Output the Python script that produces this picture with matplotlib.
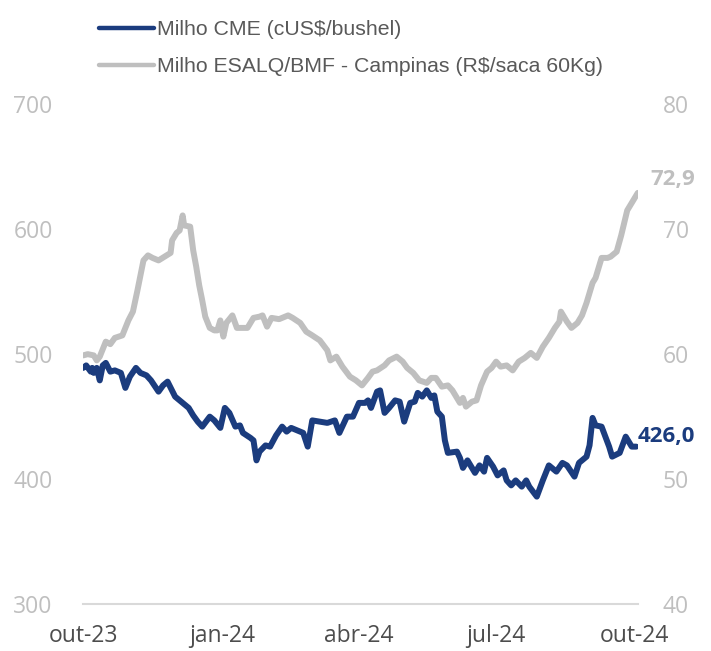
import matplotlib
matplotlib.use("Agg")
import matplotlib.pyplot as plt
from matplotlib.lines import Line2D
import pandas as pd

# dias desde 01/10/2023
dias_cme = [0, 2, 5, 6, 7, 9, 11, 13, 15, 18, 21, 25, 28, 31, 35, 38, 42, 45, 50, 53,
            56, 61, 65, 70, 73, 76, 79, 84, 87, 91, 94, 97, 101, 104, 106, 111, 113, 115, 117, 121,
            124, 128, 132, 135, 138, 142, 146, 149, 152, 157, 162, 167, 170, 175, 179, 183, 187, 189, 191, 195,
            197, 200, 203, 207, 210, 213, 217, 220, 222, 225, 228, 231, 233, 235, 238, 240, 242, 248, 250, 252,
            255, 260, 263, 266, 268, 272, 275, 279, 281, 284, 287, 291, 294, 296, 301, 305, 309, 314, 318, 321,
            326, 329, 334, 336, 338, 340, 344, 349, 351, 356, 360, 364, 367]
milho_cme = [489, 491, 486, 489, 485, 489, 479, 491, 493, 486, 487, 485, 473, 482, 489, 485, 483, 479, 470, 475,
             478, 466, 462, 457, 451, 446, 442, 450, 447, 441, 457, 453, 442, 443, 437, 433, 431, 415, 422, 427,
             426, 435, 442, 438, 441, 439, 437, 426, 447, 446, 445, 447, 437, 450, 450, 461, 461, 463, 457, 470,
             471, 453, 457, 463, 462, 446, 461, 462, 469, 466, 471, 465, 467, 454, 450, 431, 421, 422, 417, 409,
             415, 405, 411, 406, 417, 410, 403, 407, 399, 395, 399, 394, 399, 394, 386, 399, 411, 406, 413, 411,
             402, 413, 418, 427, 449, 443, 442, 426, 418, 421, 434, 426, 426.0]

dias_esalq = [0, 3, 7, 9, 11, 15, 18, 21, 26, 30, 33, 36, 38, 40, 43, 46, 50, 54, 58, 59,
              62, 64, 66, 67, 71, 73, 75, 77, 79, 81, 84, 87, 89, 91, 93, 95, 99, 102, 109, 113,
              117, 119, 122, 125, 130, 136, 139, 144, 148, 152, 157, 162, 164, 168, 172, 177, 181, 185, 189, 192,
              195, 200, 203, 208, 212, 215, 219, 223, 228, 231, 234, 238, 242, 245, 250, 252, 254, 258, 261, 264,
              268, 271, 274, 277, 281, 285, 289, 293, 297, 301, 305, 309, 313, 316, 317, 321, 324, 328, 331, 334,
              338, 340, 344, 348, 350, 354, 357, 361, 364, 368]
milho_esalq = [59.9, 60.0, 59.9, 59.5, 59.8, 61.0, 60.8, 61.3, 61.5, 62.7, 63.4, 65.1, 66.3, 67.5, 67.9, 67.7, 67.5, 67.8, 68.1, 69.1,
               69.7, 69.9, 71.1, 70.3, 70.2, 68.3, 67.0, 65.5, 64.3, 63.0, 62.1, 61.9, 61.9, 62.7, 61.4, 62.5, 63.1, 62.1, 62.1, 62.9,
               63.0, 63.1, 62.2, 62.9, 62.8, 63.1, 62.9, 62.5, 61.8, 61.5, 61.1, 60.3, 59.5, 59.8, 59.0, 58.2, 57.9, 57.5, 58.1, 58.6,
               58.7, 59.1, 59.5, 59.8, 59.4, 58.9, 58.5, 57.9, 57.7, 58.1, 58.1, 57.4, 57.5, 57.1, 56.1, 56.5, 55.8, 56.2, 56.3, 57.5,
               58.6, 58.9, 59.4, 59.0, 59.1, 58.7, 59.4, 59.7, 60.1, 59.7, 60.6, 61.3, 62.1, 62.6, 63.4, 62.6, 62.1, 62.5, 63.1, 64.1,
               65.7, 66.1, 67.7, 67.7, 67.8, 68.2, 69.5, 71.5, 72.1, 72.9]

ticks_x = ["2023-10-01", "2024-01-01", "2024-04-01", "2024-07-01", "2024-10-01"]
labels_x = ["out-23", "jan-24", "abr-24", "jul-24", "out-24"]

inicio = pd.Timestamp("2023-10-01")
datas_cme = inicio + pd.to_timedelta(dias_cme, unit="D")
datas_esalq = inicio + pd.to_timedelta(dias_esalq, unit="D")

azul = "#1b3c7e"
cinza = "#bfbfbf"
txt = "#4d4d4d"

plt.rcParams["font.family"] = ["Open Sans", "DejaVu Sans"]

fig = plt.figure(figsize=(7.11, 6.51), dpi=100)
ax = fig.add_axes([0.117, 0.072, 0.78, 0.768])
ax2 = ax.twinx()
ax.set_zorder(ax2.get_zorder() + 1)
ax.patch.set_visible(False)

ax.plot(datas_cme, milho_cme, color=azul, lw=4.3, solid_capstyle="round", solid_joinstyle="round")
ax2.plot(datas_esalq, milho_esalq, color=cinza, lw=4.3, solid_capstyle="round", solid_joinstyle="round")

ax.set_ylim(300, 700)
ax2.set_ylim(40, 80)
ax.set_yticks([300, 400, 500, 600, 700])
ax2.set_yticks([40, 50, 60, 70, 80])
ax.set_xlim(min(datas_cme[0], datas_esalq[0]), max(datas_cme[-1], datas_esalq[-1]))
ax.set_xticks(pd.to_datetime(ticks_x))
ax.set_xticklabels(labels_x)

for a in (ax, ax2):
    for s in a.spines.values():
        s.set_visible(False)
    a.tick_params(length=0)
ax.spines["bottom"].set_visible(True)
ax.spines["bottom"].set_color("#d9d9d9")
ax.spines["bottom"].set_linewidth(1.5)

ax.tick_params(axis="y", colors=cinza, labelsize=16.5, pad=22)
ax2.tick_params(axis="y", colors=cinza, labelsize=16.5, pad=18)
ax.tick_params(axis="x", colors=txt, labelsize=16.5, pad=14)

# rotulos do ultimo valor
ax.annotate("426,0", (datas_cme[-1], milho_cme[-1]), xytext=(1, 7), textcoords="offset points",
            color=azul, fontsize=16, fontweight="bold", va="center", ha="left")
ax2.annotate("72,9", (datas_esalq[-1], milho_esalq[-1]), xytext=(9, 10), textcoords="offset points",
             color=cinza, fontsize=16, fontweight="bold", va="center", ha="left")

handles = [Line2D([], [], color=azul, lw=3.2, solid_capstyle="round"),
           Line2D([], [], color=cinza, lw=3.2, solid_capstyle="round")]
fig.legend(handles, ["Milho CME (cUS$/bushel)", "Milho ESALQ/BMF - Campinas (R$/saca 60Kg)"],
           loc="upper left", bbox_to_anchor=(0.124, 0.985), frameon=False, borderpad=0,
           handlelength=2.6, handletextpad=0.15, labelspacing=0.85,
           prop={"family": "Liberation Sans", "size": 15.3}, labelcolor="#595959")

fig.savefig("out.png", dpi=100)
